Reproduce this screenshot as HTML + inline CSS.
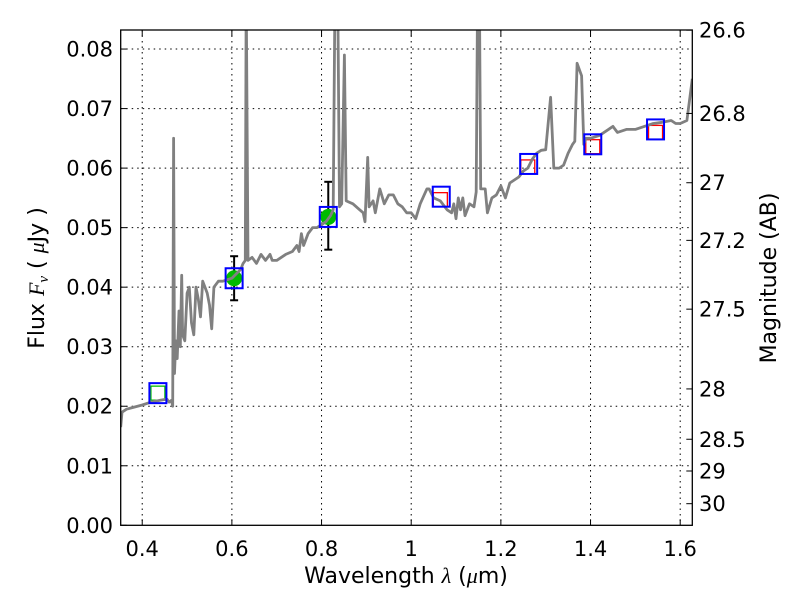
<!DOCTYPE html>
<html><head><meta charset="utf-8"><style>
body{margin:0;background:#fff}
svg text{font-family:"DejaVu Sans","Liberation Sans",sans-serif;fill:#000}
</style></head><body>
<svg id="chart" width="800" height="600" xmlns="http://www.w3.org/2000/svg">
<rect width="800" height="600" fill="#fff"/>
<g id="grid"></g>
<g id="marks"></g>
<g id="spec"></g>
<g id="marks2"></g>
<rect x="120.7" y="30" width="571.6" height="495.3" fill="none" stroke="#000" stroke-width="1.3"/>
<g id="axes"></g>
<text x="406" y="583" font-size="22" text-anchor="middle">Wavelength  <tspan font-style="italic" font-family="Liberation Serif, serif">λ</tspan> (<tspan font-style="italic" font-family="Liberation Serif, serif">μ</tspan>m)</text>
<text transform="translate(44,278) rotate(-90)" font-size="22" text-anchor="middle">Flux  <tspan font-style="italic" font-family="Liberation Serif, serif">F<tspan font-size="15" dy="4">ν</tspan></tspan><tspan dy="-4">  ( </tspan><tspan font-style="italic" font-family="Liberation Serif, serif">μ</tspan>Jy )</text>
<text transform="translate(776,278) rotate(-90)" font-size="22" text-anchor="middle">Magnitude (AB)</text>
</svg>
<script>
const xTicks=[0.4,0.6,0.8,1.0,1.2,1.4,1.6];
const xTickLabels=["0.4","0.6","0.8","1","1.2","1.4","1.6"];
const yTicks=[0,0.01,0.02,0.03,0.04,0.05,0.06,0.07,0.08];
const yTickLabels=["0.00","0.01","0.02","0.03","0.04","0.05","0.06","0.07","0.08"];
const magTicks=[26.6,26.8,27,27.2,27.5,28,28.5,29,30];
const magTickLabels=["26.6","26.8","27","27.2","27.5","28","28.5","29","30"];
const specWave=[0.352,0.355,0.365,0.38,0.40,0.42,0.44,0.455,0.46,0.465,0.468,0.470,0.472,0.475,0.478,0.482,0.485,0.488,0.49,0.495,0.50,0.505,0.51,0.515,0.52,0.525,0.53,0.535,0.54,0.545,0.55,0.555,0.56,0.57,0.58,0.60,0.62,0.625,0.63,0.632,0.636,0.645,0.655,0.665,0.675,0.685,0.69,0.70,0.71,0.72,0.735,0.745,0.75,0.755,0.76,0.77,0.78,0.79,0.80,0.81,0.82,0.826,0.830,0.836,0.840,0.845,0.851,0.855,0.87,0.885,0.893,0.897,0.903,0.906,0.915,0.92,0.93,0.94,0.95,0.96,0.97,0.98,0.99,1.00,1.01,1.02,1.035,1.04,1.05,1.065,1.08,1.09,1.095,1.10,1.105,1.11,1.115,1.12,1.13,1.14,1.145,1.148,1.152,1.155,1.165,1.17,1.18,1.19,1.20,1.21,1.22,1.24,1.25,1.26,1.27,1.28,1.29,1.30,1.311,1.318,1.33,1.34,1.35,1.36,1.365,1.370,1.38,1.385,1.39,1.40,1.42,1.44,1.45,1.46,1.48,1.50,1.52,1.54,1.56,1.58,1.59,1.60,1.615,1.627];
const specFlux=[0.0165,0.019,0.0195,0.0198,0.0202,0.0207,0.021,0.0212,0.0207,0.021,0.020,0.065,0.0255,0.031,0.028,0.036,0.030,0.042,0.032,0.031,0.039,0.040,0.034,0.032,0.040,0.038,0.035,0.041,0.040,0.039,0.037,0.033,0.040,0.041,0.041,0.0415,0.043,0.044,0.0445,0.09,0.0445,0.045,0.044,0.0455,0.0445,0.0455,0.0445,0.0445,0.045,0.0455,0.046,0.047,0.046,0.049,0.047,0.049,0.050,0.050,0.0505,0.051,0.052,0.053,0.09,0.09,0.0535,0.054,0.079,0.0545,0.054,0.053,0.0525,0.051,0.0618,0.0535,0.0545,0.0525,0.0565,0.054,0.0555,0.0555,0.054,0.0535,0.0525,0.0525,0.0515,0.054,0.0565,0.0565,0.055,0.0545,0.053,0.0525,0.054,0.0515,0.055,0.053,0.055,0.052,0.054,0.0535,0.056,0.09,0.09,0.0565,0.0565,0.0525,0.055,0.0555,0.057,0.055,0.0575,0.0585,0.0595,0.060,0.0615,0.0625,0.063,0.0631,0.0719,0.060,0.060,0.0605,0.0625,0.064,0.0645,0.0776,0.0755,0.064,0.065,0.065,0.0655,0.0665,0.067,0.066,0.0665,0.0665,0.067,0.0675,0.0677,0.068,0.0675,0.0675,0.068,0.075];
const photWave=[0.435,0.605,0.815,1.067,1.262,1.405,1.545];
const photFlux=[0.0222,0.0415,0.0518,0.0552,0.0607,0.064,0.0665];
const detWave=[0.605,0.815];
const detFlux=[0.0415,0.0518];
const detLow=[0.0378,0.0463];
const detHigh=[0.0452,0.0577];
const greenOpenWave=[0.435];
const greenOpenFlux=[0.0222];
const redWave=[1.065,1.26,1.405,1.545];
const redFlux=[0.0547,0.0602,0.0636,0.066];

const X0=120.7,X1=692.3,Y0=525.3,Y1=30;
const xmin=0.352,xmax=1.627,ymin=0,ymax=0.0832;
const sx=v=>X0+(v-xmin)/(xmax-xmin)*(X1-X0);
const sy=v=>Y0-(v-ymin)/(ymax-ymin)*(Y0-Y1);
const mag2f=m=>Math.pow(10,(23.9-m)/2.5);
const NS="http://www.w3.org/2000/svg";
function mk(tag,parent,attrs){const e=document.createElementNS(NS,tag);for(const k in attrs)e.setAttribute(k,attrs[k]);parent.appendChild(e);return e;}
const grid=document.getElementById('grid'),axes=document.getElementById('axes'),spec=document.getElementById('spec'),marks=document.getElementById('marks'),marks2=document.getElementById('marks2');
xTicks.forEach((t,i)=>{const x=sx(t);
 const g=mk('line',grid,{x1:x,x2:x,y1:Y1,y2:Y0,stroke:'#000','stroke-width':1,'stroke-dasharray':'1.5,4'});
 
 
 mk('line',axes,{x1:x,x2:x,y1:Y0,y2:Y0-6,stroke:'#000'});
 mk('line',axes,{x1:x,x2:x,y1:Y1,y2:Y1+6,stroke:'#000'});
 const tx=mk('text',axes,{x:x,y:556,'font-size':21,'text-anchor':'middle'});tx.textContent=xTickLabels[i];
 
 
});
yTicks.forEach((t,i)=>{const y=sy(t);
 if(t>0){const g=mk('line',grid,{x1:X0,x2:X1,y1:y,y2:y,stroke:'#000','stroke-width':1,'stroke-dasharray':'1.5,4'});
 
 }
 mk('line',axes,{x1:X0,x2:X0+6,y1:y,y2:y,stroke:'#000'});
 const tx=mk('text',axes,{x:113,y:y+7.5,'font-size':21,'text-anchor':'end'});tx.textContent=yTickLabels[i];
 
 
});
magTicks.forEach((m,i)=>{const y=sy(mag2f(m));
 mk('line',axes,{x1:X1,x2:X1-6,y1:y,y2:y,stroke:'#000'});
 const tx=mk('text',axes,{x:699,y:y+7.5,'font-size':21});tx.textContent=magTickLabels[i];
 
 
});
const cp=mk('clipPath',spec,{id:'clip'});mk('rect',cp,{x:X0,y:Y1,width:X1-X0,height:Y0-Y1});
detWave.forEach((w,i)=>{const x=sx(w);
 const e=mk('g',marks,{stroke:'#000','stroke-width':2});
 
 
 mk('line',e,{x1:x,x2:x,y1:sy(detLow[i]),y2:sy(detHigh[i])});
 mk('line',e,{x1:x-4,x2:x+4,y1:sy(detLow[i]),y2:sy(detLow[i])});
 mk('line',e,{x1:x-4,x2:x+4,y1:sy(detHigh[i]),y2:sy(detHigh[i])});
 const c=mk('circle',marks,{cx:x,cy:sy(detFlux[i]),r:8,fill:'#00bb00'});
 
 
});
greenOpenWave.forEach((w,i)=>{const r=mk('rect',marks,{x:sx(w)-7,y:sy(greenOpenFlux[i])-7,width:14,height:14,fill:'none',stroke:'#00bb00','stroke-width':1.3});
 
 });
redWave.forEach((w,i)=>{const r=mk('rect',marks,{x:sx(w)-7,y:sy(redFlux[i])-7,width:14,height:14,fill:'none',stroke:'#ff0000','stroke-width':1.3});
 
 });
const pl=mk('polyline',spec,{points:specWave.map((w,i)=>sx(w).toFixed(1)+','+sy(specFlux[i]).toFixed(1)).join(' '),fill:'none',stroke:'#808080','stroke-width':2.8,'clip-path':'url(#clip)','stroke-linejoin':'round'});


photWave.forEach((w,i)=>{const r=mk('rect',marks2,{x:sx(w)-8.5,y:sy(photFlux[i])-10,width:17,height:20,fill:'none',stroke:'#0000ff','stroke-width':2});
 
 });
</script>
</body></html>
